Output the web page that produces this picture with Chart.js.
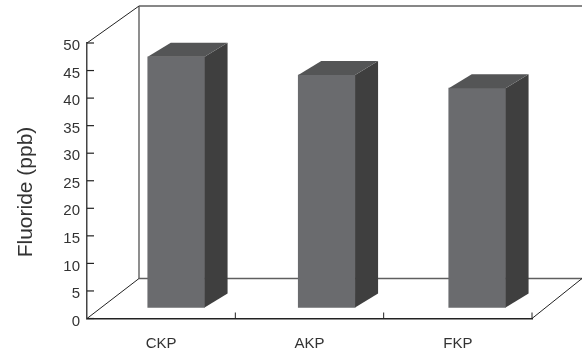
<!DOCTYPE html>
<html>
<head>
<meta charset="utf-8">
<title>Fluoride (ppb)</title>
<script src="https://cdn.jsdelivr.net/npm/chart.js@4/dist/chart.umd.min.js"></script>
<style>
  html, body { margin: 0; padding: 0; background: #fff; }
  canvas { display: block; }
</style>
</head>
<body>
<canvas id="fluorideChart" width="582" height="352"></canvas>
<script>
const categories = ["CKP", "AKP", "FKP"];
const fluorideValues = [45.5, 42.2, 39.8];
const yAxisTitle = "Fluoride (ppb)";
const yMin = 0;
const yMax = 50;
const yStep = 5;

// Fake 3D: the floor runs back by this much, bars stand partway along it
const floorDepth = { x: 52, y: -40 };
const wallTopRise = -37;
const barShift = { x: 15, y: -11 };
const barDepth = { x: 23, y: -14 };
// bars fan out slightly further apart than the front axis ticks
const barSpread = 1.0146;

const FONT = '"Liberation Sans", Arial, sans-serif';
const TEXT_COLOR = "#333";

const line = (ctx, x1, y1, x2, y2, color, width) => {
  ctx.beginPath();
  ctx.moveTo(x1, y1);
  ctx.lineTo(x2, y2);
  ctx.strokeStyle = color;
  ctx.lineWidth = width;
  ctx.stroke();
};

const face = (ctx, points, color) => {
  ctx.beginPath();
  points.forEach(([x, y], i) => (i ? ctx.lineTo(x, y) : ctx.moveTo(x, y)));
  ctx.closePath();
  ctx.fillStyle = color;
  ctx.fill();
};

const box3d = {
  id: "box3d",
  beforeDatasetsDraw(chart) {
    const { ctx, chartArea: a, scales } = chart;
    const backLeft = a.left + floorDepth.x;
    const backRight = a.right + floorDepth.x - 2;
    const backFloor = a.bottom + floorDepth.y;
    const backTop = a.top + wallTopRise;

    ctx.save();
    // back wall and floor
    line(ctx, backLeft, backTop, 582, backTop, "#5f5f5f", 1.6);
    line(ctx, backLeft, backTop, backLeft, backFloor, "#5f5f5f", 1.4);
    line(ctx, backLeft, backFloor, 582, backFloor, "#5f5f5f", 1.4);
    line(ctx, a.left, a.top, backLeft, backTop, "#222", 1);
    line(ctx, a.left, a.bottom, backLeft, backFloor, "#222", 1);
    line(ctx, a.right, a.bottom, backRight, backFloor, "#222", 1);

    // inward tick marks on both axes
    scales.y.ticks.forEach((t) => {
      const y = scales.y.getPixelForValue(t.value);
      line(ctx, a.left, y, a.left + 7, y, "#222", 1.2);
    });
    const band = (a.right - a.left) / categories.length;
    categories.forEach((c, i) => {
      const x = scales.x.getPixelForValue(i) + band / 2;
      line(ctx, x, a.bottom, x, a.bottom - 6, "#222", 1);
    });

    // axis title sits lower than the axis midpoint
    ctx.translate(32, 192);
    ctx.rotate(-Math.PI / 2);
    ctx.font = `21px ${FONT}`;
    ctx.fillStyle = TEXT_COLOR;
    ctx.textAlign = "center";
    ctx.textBaseline = "alphabetic";
    ctx.fillText(yAxisTitle, 0, 0);
    ctx.restore();

    // the library draws the front faces, moved back onto the floor
    const x0 = scales.x.getPixelForValue(0);
    ctx.save();
    ctx.translate(x0 + barShift.x, barShift.y);
    ctx.scale(barSpread, 1);
    ctx.translate(-x0, 0);
  },
  afterDatasetsDraw(chart) {
    const { ctx, scales } = chart;
    ctx.restore();

    const x0 = scales.x.getPixelForValue(0);
    const toFloorX = (x) => (x - x0) * barSpread + x0 + barShift.x;

    ctx.save();
    chart.getDatasetMeta(0).data.forEach((bar) => {
      const p = bar.getProps(["x", "y", "base", "width"], true);
      const left = toFloorX(p.x - p.width / 2);
      const right = toFloorX(p.x + p.width / 2);
      const top = p.y + barShift.y;
      const bottom = p.base + barShift.y;
      face(ctx, [
        [right, top],
        [right + barDepth.x, top + barDepth.y],
        [right + barDepth.x, bottom + barDepth.y],
        [right, bottom],
      ], "#3f3f3f");
      face(ctx, [
        [left, top],
        [left + barDepth.x, top + barDepth.y],
        [right + barDepth.x, top + barDepth.y],
        [right, top],
      ], "#545556");
    });
    ctx.restore();
  },
};

new Chart(document.getElementById("fluorideChart"), {
  type: "bar",
  data: {
    labels: categories,
    datasets: [
      {
        label: yAxisTitle,
        data: fluorideValues,
        backgroundColor: "#6a6b6e",
        borderWidth: 0,
        barThickness: 56,
        clip: false,
      },
    ],
  },
  options: {
    responsive: false,
    animation: false,
    layout: { padding: { left: 14, right: 50, top: 43, bottom: 0 } },
    plugins: {
      legend: { display: false },
      tooltip: { enabled: false },
    },
    scales: {
      x: {
        afterFit: (scale) => { scale.height = 33.5; },
        grid: { display: false, drawTicks: false },
        border: { display: true, color: "#222", width: 1.5 },
        ticks: {
          color: TEXT_COLOR,
          padding: 16,
          maxRotation: 0,
          font: { family: FONT, size: 15 },
        },
      },
      y: {
        min: yMin,
        max: yMax,
        afterFit: (scale) => { scale.width = 73; },
        grid: { display: false, drawTicks: false },
        border: { display: true, color: "#444", width: 1.5 },
        ticks: {
          stepSize: yStep,
          color: TEXT_COLOR,
          padding: 7,
          labelOffset: 3,
          font: { family: FONT, size: 15 },
        },
      },
    },
  },
  plugins: [box3d],
});
</script>
</body>
</html>
